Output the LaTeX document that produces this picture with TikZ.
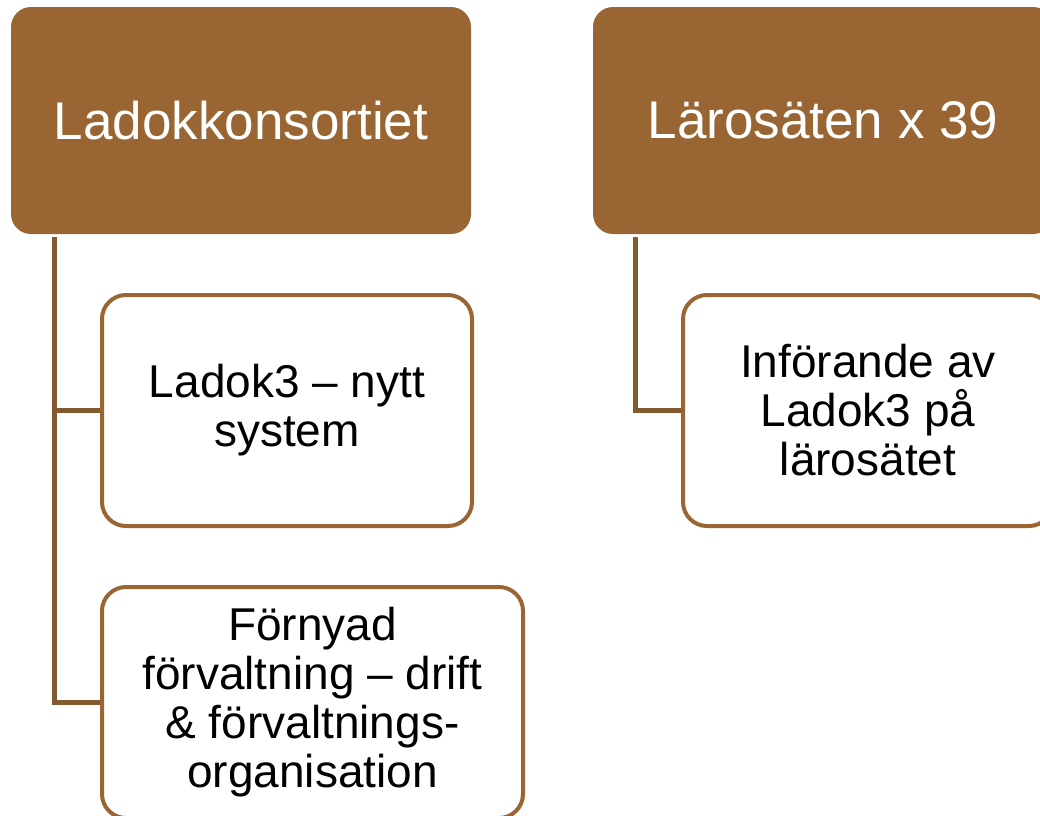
\documentclass[tikz,border=0pt]{standalone}
\usepackage{fontspec}
\setmainfont{Liberation Sans}
\usetikzlibrary{positioning}
\definecolor{ladokbrown}{HTML}{996633}
\definecolor{linkbrown}{HTML}{83592F}
\tikzset{
  headbox/.style={rectangle, rounded corners=20pt, fill=ladokbrown, text=white,
    minimum width=460pt, minimum height=227pt, inner sep=0pt,
    font=\fontsize{53}{61}\selectfont},
  subbox/.style={rectangle, rounded corners=24pt, draw=ladokbrown, line width=4pt,
    fill=white, minimum width=370pt, minimum height=231pt, inner sep=0pt,
    align=center, font=\fontsize{46}{49}\selectfont},
  link/.style={draw=linkbrown, line width=5pt}
}
\begin{document}
\begin{tikzpicture}[x=1pt,y=-1pt]
\useasboundingbox (0,0) rectangle (1040,815);
% top row
\node[headbox] (konsortiet) at (241,120.5) {Ladokkonsortiet};
\node[headbox] (larosaten) at (823,120.5) {Lärosäten x 39};
% children
\node[subbox] (nyttsystem) at (287,410.5) {Ladok3 – nytt\\system};
\node[subbox, minimum width=421pt] (forvaltning) at (312.5,702.5)
  {Förnyad\\förvaltning – drift\\\& förvaltnings-\\organisation};
\node[subbox] (inforande) at (868,410.5) {Införande av\\Ladok3 på\\lärosätet};
% connectors
\coordinate (trunkA) at ([xshift=44pt,yshift=-3pt]konsortiet.south west);
\coordinate (trunkB) at ([xshift=43pt,yshift=-3pt]larosaten.south west);
\draw[link] (trunkA) |- (forvaltning.west);
\draw[link] (trunkA |- nyttsystem.west) -- (nyttsystem.west);
\draw[link] (trunkB) |- (inforande.west);
\end{tikzpicture}
\end{document}
